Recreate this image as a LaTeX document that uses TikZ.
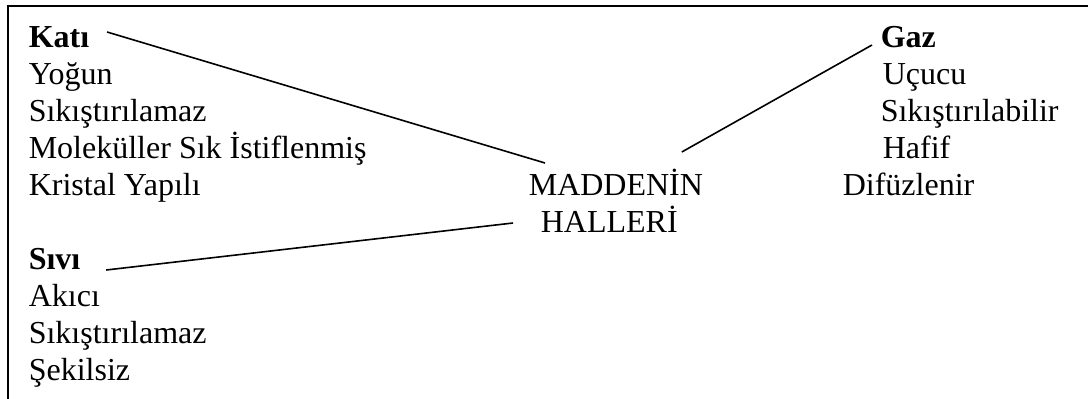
\documentclass[tikz,border=0pt]{standalone}
\usepackage{fontspec}
\setmainfont{Liberation Serif}
\begin{document}
\begin{tikzpicture}[x=1pt, y=-1pt, nodeStyle/.style={anchor=base west, inner sep=0pt, font=\fontsize{32}{37}\selectfont}, headStyle/.style={nodeStyle, font=\fontsize{32}{37}\selectfont\bfseries}, line width=1.6pt]
                    \useasboundingbox (0,0) rectangle (1088,399);
                    \draw[line width=2pt] (8,399) -- (8,6) -- (1088,6);

                    \node[headStyle](kati) at (28, 47) {Katı};
                    \node[nodeStyle](k1) at (28, 84) {Yoğun};
                    \node[nodeStyle](k2) at (28, 121) {Sıkıştırılamaz};
                    \node[nodeStyle](k3) at (28, 158) {Moleküller Sık İstiflenmiş};
                    \node[nodeStyle](k4) at (28, 195) {Kristal Yapılı};

                    \node[headStyle](sivi) at (28, 269) {Sıvı};
                    \node[nodeStyle](s1) at (28, 306) {Akıcı};
                    \node[nodeStyle](s2) at (28, 343) {Sıkıştırılamaz};
                    \node[nodeStyle](s3) at (28, 380) {Şekilsiz};

                    \node[headStyle](gaz) at (880, 47) {Gaz};
                    \node[nodeStyle](g1) at (882, 84) {Uçucu};
                    \node[nodeStyle](g2) at (880, 121) {Sıkıştırılabilir};
                    \node[nodeStyle](g3) at (882, 158) {Hafif};
                    \node[nodeStyle](g4) at (842, 195) {Difüzlenir};

                    \node[nodeStyle](madde) at (528, 195) {MADDENİN};
                    \node[nodeStyle](halleri) at (540, 232) {HALLERİ};

                    \draw ([xshift=17pt, yshift=15pt]kati.base east) -- ([xshift=17pt, yshift=32pt]madde.base west);
                    \draw ([xshift=-22pt, yshift=43pt]madde.base east) -- ([xshift=-8pt, yshift=2pt]gaz.base west);
                    \draw ([xshift=25pt, yshift=-1pt]sivi.base east) -- ([xshift=-27pt, yshift=9pt]halleri.base west);
                \end{tikzpicture}
\end{document}
